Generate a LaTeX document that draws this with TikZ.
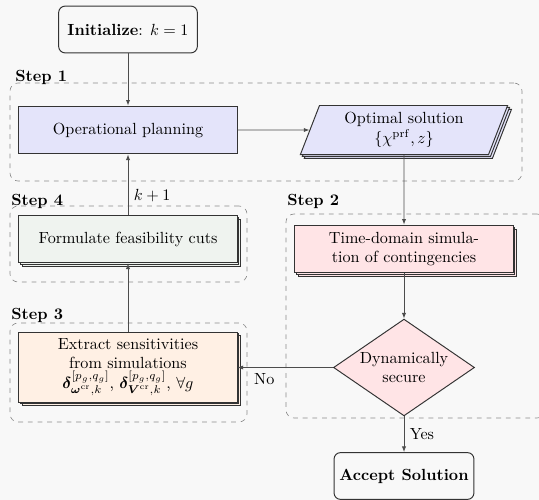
\documentclass[tikz,border=0pt]{standalone}
\usepackage{amsmath,bm}
\usetikzlibrary{shapes.geometric,shadows,fit,arrows.meta}
\definecolor{planblue}{RGB}{228,228,250}
\definecolor{simpink}{RGB}{255,228,230}
\definecolor{sensorange}{RGB}{255,240,228}
\definecolor{cutgreen}{RGB}{239,243,239}
\definecolor{bggray}{RGB}{248,248,248}

\begin{document}
\begin{tikzpicture}[x=0.62pt,y=-0.62pt,
  >={Latex[length=3.5pt,width=2.6pt]},
  block/.style={draw=black!80,line width=0.6pt,rectangle,align=center,
    minimum width=135.2pt,minimum height=29.6pt,inner sep=1pt},
  stack/.style={copy shadow={shadow xshift=2.4pt,shadow yshift=-2.4pt},
    copy shadow={shadow xshift=1.2pt,shadow yshift=-1.2pt}},
  terminal/.style={draw=black!80,line width=0.6pt,rounded corners=4pt,
    minimum width=86pt,minimum height=29pt},
  flow/.style={->,draw=black!70,line width=0.5pt},
  stepframe/.style={draw=black!45,dashed,rounded corners=5pt,inner sep=0pt},
  steplabel/.style={font=\bfseries,anchor=base west,inner sep=0pt}]
  % background
  \fill[bggray] (0,0) rectangle (539,500);
  \clip (0,0) rectangle (539,500);
  % step frames
  \node[stepframe,fit={(10,83) (522,181)}] (step1) {};
  \node[stepframe,fit={(286,214) (545,418)}] (step2) {};
  \node[stepframe,fit={(10,323) (247,422)}] (step3) {};
  \node[stepframe,fit={(10,206) (247,282)}] (step4) {};
  \node[steplabel] at (15,81) {Step 1};
  \node[steplabel] at (287,205) {Step 2};
  \node[steplabel] at (11,319) {Step 3};
  \node[steplabel] at (11,205) {Step 4};
  % terminals
  \node[terminal] (init) at (128,29.5) {\textbf{Initialize}: $k=1$};
  \node[terminal] (acc) at (404,476) {\textbf{Accept Solution}};
  % blocks
  \node[block,fill=planblue] (op) at (128,130) {Operational planning};
  \node[block,trapezium,trapezium left angle=70,trapezium right angle=110,
    trapezium stretches=true,minimum width=129pt,minimum height=30.4pt,
    fill=planblue,stack] (opt) at (404,130)
    {Optimal solution\\$\{\chi^{\mathrm{prf}},z\}$};
  \node[block,fill=simpink,stack] (tds) at (404,249)
    {Time-domain simula-\\tion of contingencies};
  \node[block,diamond,aspect=1.45,inner sep=0pt,minimum width=87.4pt,
    minimum height=60pt,fill=simpink] (dec) at (404,367.5)
    {Dynamically\\secure};
  \node[block,fill=sensorange,minimum height=43.4pt,stack] (ext) at (128,367)
    {Extract sensitivities\\from simulations\\
     $\bm{\delta}^{[p_g,q_g]}_{\bm{\omega}^{\mathrm{cr}},k}$,
     $\bm{\delta}^{[p_g,q_g]}_{\bm{V}^{\mathrm{cr}},k}$, $\forall g$};
  \node[block,fill=cutgreen,stack] (cut) at (128,239)
    {Formulate feasibility cuts};
  % connectors
  \draw[flow] (init) -- (op);
  \draw[flow] (op) -- (opt);
  \draw[flow] (opt) -- (tds);
  \draw[flow] (tds) -- (dec);
  \draw[flow] (dec.west) -- node[pos=0.72,below] {No} (dec.west -| ext.east);
  \draw[flow] (dec) -- node[right] {Yes} (acc);
  \draw[flow] (ext) -- (cut);
  \draw[flow] (cut) -- node[pos=0.32,right] {$k+1$} (op);
\end{tikzpicture}
\end{document}
